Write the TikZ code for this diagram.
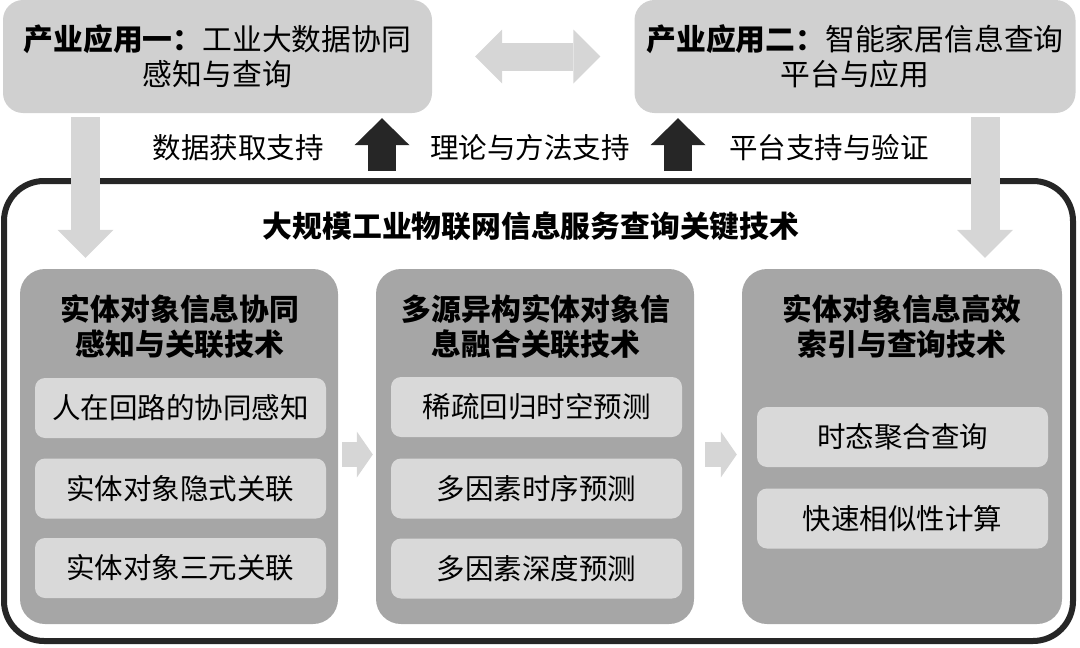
\documentclass[tikz,border=0pt]{standalone}
\usepackage{fontspec}
\setmainfont{Noto Sans CJK SC}
\usetikzlibrary{arrows.meta,calc}
\definecolor{appfill}{HTML}{D0D0D0}
\definecolor{panelfill}{HTML}{A6A6A6}
\definecolor{subfill}{HTML}{D9D9D9}
\definecolor{lightarr}{HTML}{D6D6D6}
\definecolor{darkline}{HTML}{262626}
\begin{document}
\begin{tikzpicture}[x=1pt,y=-1pt,
  txt/.style={font=\fontsize{28.5}{35}\selectfont, text=black},
  appbox/.style={font=\fontsize{29.8}{35}\selectfont, fill=appfill, rounded corners=20pt, align=center, inner sep=0pt,
    minimum height=113pt},
  frame/.style={draw=darkline, line width=6pt, rounded corners=40pt, inner sep=0pt},
  panel/.style={fill=panelfill, rounded corners=25pt, inner sep=0pt, minimum width=318pt, minimum height=355pt},
  ptitle/.style={font=\fontsize{29.8}{35}\selectfont\bfseries, align=center, inner sep=0pt},
  subbox/.style={txt, fill=subfill, rounded corners=10pt, inner sep=0pt, minimum width=291pt, minimum height=60pt},
  lbl/.style={txt, inner sep=0pt},
  lightblk/.style={draw=lightarr, line width=#1},
  darkblk/.style={draw=darkline, line width=#1},
]
\useasboundingbox (0,0) rectangle (1080,648);

% application boxes
\node[appbox, minimum width=429pt] (app1) at (217.5,56.5)
  {\textbf{产业应用一：}工业大数据协同\\感知与查询};
\node[appbox, minimum width=441pt] (app2) at (855,56.5)
  {\textbf{产业应用二：}智能家居信息查询\\平台与应用};

% outer frame
\node[frame, minimum width=1069pt, minimum height=460pt] (outer) at (538.5,411) {};
\node[ptitle] (title) at (531,226) {大规模工业物联网信息服务查询关键技术};

% panels
\node[panel] (p1) at (179,446.5) {};
\node[panel] (p2) at (535,446.5) {};
\node[panel, minimum width=320pt] (p3) at (902,446.5) {};

\node[ptitle] (t1) at ($(p1.north)+(1,58)$) {实体对象信息协同\\感知与关联技术};
\node[ptitle] (t2) at ($(p2.north)+(1,58)$) {多源异构实体对象信\\息融合关联技术};
\node[ptitle] (t3) at ($(p3.north)+(0,58)$) {实体对象信息高效\\索引与查询技术};

\node[subbox] (s11) at (180.5,408) {人在回路的协同感知};
\node[subbox] (s12) at (180.5,488.5) {实体对象隐式关联};
\node[subbox] (s13) at (180.5,568) {实体对象三元关联};
\node[subbox] (s21) at (536.5,407) {稀疏回归时空预测};
\node[subbox] (s22) at (536.5,488.5) {多因素时序预测};
\node[subbox] (s23) at (536.5,568.5) {多因素深度预测};
\node[subbox] (s31) at (902.5,437) {时态聚合查询};
\node[subbox] (s32) at (902.5,518.5) {快速相似性计算};

% labels
\node[lbl] (l1) at (238,148) {数据获取支持};
\node[lbl] (l2) at (530,148) {理论与方法支持};
\node[lbl] (l3) at (829,148) {平台支持与验证};

% double arrow between applications
\draw[lightblk=28pt, {Triangle[length=27pt,width=54pt,line width=0pt]}-{Triangle[length=27pt,width=54pt,line width=0pt]}]
  ($(app1.east)+(43,0)$) -- ($(app2.west)+(-34,0)$);

% down arrows
\draw[lightblk=29pt, -{Triangle[length=28pt,width=56pt,line width=0pt]}]
  ($(app1.south)+(-132,4)$) -- ($(p1.north)+(-93.5,-11)$);
\draw[lightblk=29pt, -{Triangle[length=28pt,width=56pt,line width=0pt]}]
  ($(app2.south)+(130,4)$) -- ($(p3.north)+(83,-11)$);

% up arrows (dark)
\draw[darkblk=28pt, -{Triangle[length=27pt,width=55pt,line width=0pt]}]
  ($(outer.north)+(-156.5,-7)$) -- ($(app1.south)+(164.5,5)$);
\draw[darkblk=28pt, -{Triangle[length=27pt,width=55pt,line width=0pt]}]
  ($(outer.north)+(139.5,-7)$) -- ($(app2.south)+(-177,5)$);

% arrows between panels
\draw[lightblk=25pt, -{Triangle[length=16pt,width=46pt,line width=0pt]}]
  ($(p1.east)+(4,8)$) -- ($(p2.west)+(-3,8)$);
\draw[lightblk=25pt, -{Triangle[length=16pt,width=46pt,line width=0pt]}]
  ($(p2.east)+(11,8)$) -- ($(p3.west)+(-5,8)$);
\end{tikzpicture}
\end{document}
